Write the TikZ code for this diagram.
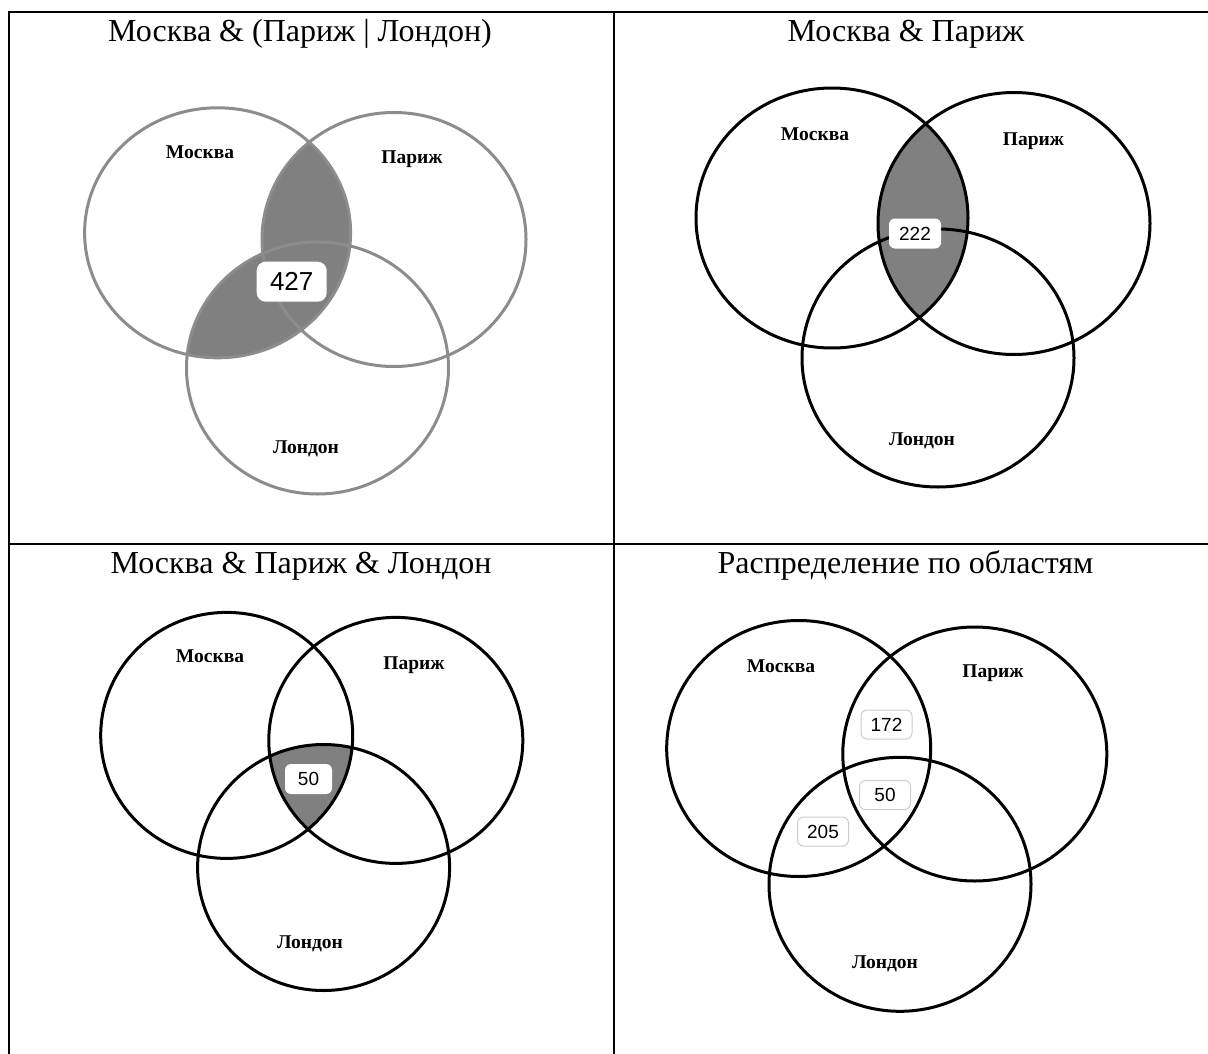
\documentclass[tikz,border=0pt]{standalone}
\usepackage{fontspec}
\setmainfont{Liberation Serif}
\newfontfamily\numfont{Liberation Sans}
\usepackage{tikz}

\begin{document}
\begin{tikzpicture}[x=1pt,y=-1pt,
  title/.style={anchor=base,font=\fontsize{32}{34}\selectfont},
  setname/.style={anchor=base,font=\fontsize{19.5}{21}\selectfont\bfseries},
  ring/.style={line width=3pt},
  greyring/.style={line width=3pt,draw=black!45},
  shade/.style={fill=black!50},
  countbox/.style={fill=white,rounded corners=6pt,inner sep=0pt,minimum width=52pt,minimum height=30pt,font=\numfont\fontsize{19}{21}\selectfont},
  bigbox/.style={countbox,minimum width=70pt,minimum height=40pt,rounded corners=9pt,font=\numfont\fontsize{26}{28}\selectfont},
  softbox/.style={countbox,draw=black!20,line width=1pt,minimum width=51pt,minimum height=29pt}]
\useasboundingbox (0,0) rectangle (1208,1054);
% table
\draw[line width=2pt] (9,1054)--(9,12)--(1208,12);
\draw[line width=2pt] (613.5,12)--(613.5,1054);
\draw[line width=2pt] (9,543.5)--(1208,543.5);
% cell 1
\node[title] (t1) at (300,42) {Москва \& (Париж | Лондон)};
\begin{scope}
\clip (217.6,232.8) ellipse [x radius=133, y radius=125];
\fill[shade] (394,239.5) ellipse [x radius=132, y radius=127];
\fill[shade] (317.5,368) ellipse [x radius=131, y radius=126];
\end{scope}
\draw[greyring] (217.6,232.8) ellipse [x radius=133, y radius=125];
\draw[greyring] (394,239.5) ellipse [x radius=132, y radius=127];
\draw[greyring] (317.5,368) ellipse [x radius=131, y radius=126];
\node[setname] (m1) at (200,159) {Москва};
\node[setname] (p1) at (412,164) {Париж};
\node[setname] (l1) at (306,453) {Лондон};
\node[bigbox] (n1) at (291.7,281.7) {427};
% cell 2
\node[title] (t2) at (906,42) {Москва \& Париж};
\begin{scope}
\clip (832,218) ellipse [x radius=136, y radius=130];
\fill[shade] (1014,223.5) ellipse [x radius=136, y radius=131];
\end{scope}
\draw[ring] (832,218) ellipse [x radius=136, y radius=130];
\draw[ring] (1014,223.5) ellipse [x radius=136, y radius=131];
\draw[ring] (938,358) ellipse [x radius=136, y radius=129];
\node[setname] (m2) at (815,140.5) {Москва};
\node[setname] (p2) at (1033.5,145.5) {Париж};
\node[setname] (l2) at (922,445) {Лондон};
\node[countbox] (n2) at (915,233.5) {222};
% cell 3
\node[title] (t3) at (301,573) {Москва \& Париж \& Лондон};
\begin{scope}
\clip (226.7,735.4) ellipse [x radius=126, y radius=123];
\clip (395.8,740.4) ellipse [x radius=127, y radius=123];
\fill[shade] (323.6,867.5) ellipse [x radius=126, y radius=123];
\end{scope}
\draw[ring] (226.7,735.4) ellipse [x radius=126, y radius=123];
\draw[ring] (395.8,740.4) ellipse [x radius=127, y radius=123];
\draw[ring] (323.6,867.5) ellipse [x radius=126, y radius=123];
\node[setname] (m3) at (210,662) {Москва};
\node[setname] (p3) at (414,669) {Париж};
\node[setname] (l3) at (310,948) {Лондон};
\node[countbox,minimum width=47pt] (n3) at (308.5,779) {50};
% cell 4
\node[title] (t4) at (905.5,573) {Распределение по областям};
\draw[ring] (798.7,748.5) ellipse [x radius=132, y radius=128];
\draw[ring] (974.8,754) ellipse [x radius=132, y radius=127];
\draw[ring] (900,884.3) ellipse [x radius=131, y radius=127];
\node[setname] (m4) at (781,672.5) {Москва};
\node[setname] (p4) at (993,677.5) {Париж};
\node[setname] (l4) at (885,968) {Лондон};
\node[softbox] (a4) at (886.5,724.5) {172};
\node[softbox] (b4) at (885,795) {50};
\node[softbox] (c4) at (823,831.5) {205};
\end{tikzpicture}
\end{document}
